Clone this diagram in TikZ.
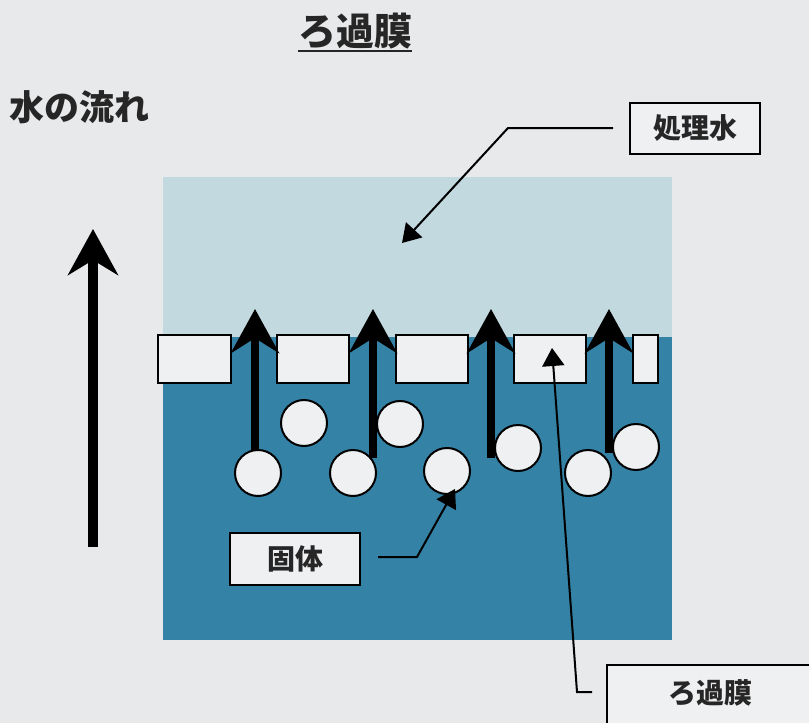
\documentclass[tikz,border=0pt]{standalone}
\usepackage{fontspec}
\newfontfamily\jp{Noto Sans CJK JP}
\usetikzlibrary{arrows.meta}
\definecolor{bg}{HTML}{E8E9EA}
\definecolor{lightwater}{HTML}{C2D9E0}
\definecolor{darkwater}{HTML}{3482A6}
\definecolor{boxfill}{HTML}{EEF0F2}
\tikzset{
  membrane/.style={draw=black, line width=2pt, fill=boxfill, inner sep=0pt},
  solid particle/.style={circle, draw=black, line width=2pt, fill=boxfill, minimum size=46pt, inner sep=0pt},
  flowarrow/.style={line width=8pt, -{Stealth[length=44pt,width=48pt,inset=15pt]}},
  leader/.style={line width=2pt, -{Triangle[length=18pt,width=22pt]}},
  labelbox/.style={draw=black, line width=2pt, fill=boxfill, font=\jp\bfseries\fontsize{28}{28}\selectfont, inner sep=0pt, text=black!85}
}
\begin{document}
\begin{tikzpicture}[x=1pt,y=-1pt]
\fill[bg] (0,0) rectangle (809,723);
\useasboundingbox (0,0) rectangle (809,723);
% water
\fill[lightwater] (163,177) rectangle (672,337);
\fill[darkwater] (163,337) rectangle (672,640);
% title
\node[font=\jp\bfseries\fontsize{38}{38}\selectfont, text=black!85, inner sep=0pt, anchor=base] (title) at (355,45) {ろ過膜};
\draw[line width=2.5pt, black!85] ([yshift=-6pt]title.base west) -- ([yshift=-6pt]title.base east);
\node[font=\jp\bfseries\fontsize{35}{35}\selectfont, text=black!85, inner sep=0pt, anchor=base west] (flowlabel) at (9,120) {水の流れ};
% big arrow
\coordinate (bigfrom) at (93,547);
\coordinate (bigto) at (93,229);
\draw[line width=10pt, -{Stealth[length=46pt,width=50pt,inset=15pt]}] (bigfrom) -- (bigto);
% membrane pieces
\node[membrane, minimum width=73pt, minimum height=48pt] (m1) at (194.5,359) {};
\node[membrane, minimum width=72pt, minimum height=48pt] (m2) at (313,359) {};
\node[membrane, minimum width=72pt, minimum height=48pt] (m3) at (432,359) {};
\node[membrane, minimum width=72pt, minimum height=48pt] (m4) at (550,359) {};
\node[membrane, minimum width=25pt, minimum height=48pt] (m5) at (645,359) {};
% flow arrows through pores
\coordinate (a1s) at (255,450); \coordinate (a1e) at (255,309);
\coordinate (a2s) at (373,458); \coordinate (a2e) at (373,309);
\coordinate (a3s) at (491,458); \coordinate (a3e) at (491,309);
\coordinate (a4s) at (609,453); \coordinate (a4e) at (609,309);
\draw[flowarrow] (a1s) -- (a1e);
\draw[flowarrow] (a2s) -- (a2e);
\draw[flowarrow] (a3s) -- (a3e);
\draw[flowarrow] (a4s) -- (a4e);
% solids
\node[solid particle] (c1) at (258,473) {};
\node[solid particle] (c2) at (304,423) {};
\node[solid particle] (c3) at (353,473) {};
\node[solid particle] (c4) at (400,424) {};
\node[solid particle] (c5) at (447,471) {};
\node[solid particle] (c6) at (518,448) {};
\node[solid particle] (c7) at (588,473) {};
\node[solid particle] (c8) at (636,447) {};
% labels
\node[labelbox, minimum width=130pt, minimum height=51pt] (treated) at (695,128) {処理水};
\node[labelbox, minimum width=130pt, minimum height=52pt] (solid) at (295,559) {固体};
\node[labelbox, minimum width=230pt, minimum height=70pt] (filmlabel) at (722,700) {};
\node[font=\jp\bfseries\fontsize{28}{28}\selectfont, text=black!85] (filmtext) at (710,693) {ろ過膜};
% leaders
\coordinate (t1) at (613,128); \coordinate (t2) at (508,128); \coordinate (ttip) at (402,243);
\draw[leader] (t1) -- (t2) -- (ttip);
\coordinate (s1) at (378,557); \coordinate (s2) at (417,557); \coordinate (stip) at (455,489);
\draw[leader] (s1) -- (s2) -- (stip);
\coordinate (f1) at (592,692); \coordinate (f2) at (577,692); \coordinate (ftip) at (552,348);
\draw[leader] (f1) -- (f2) -- (ftip);
\end{tikzpicture}
\end{document}
